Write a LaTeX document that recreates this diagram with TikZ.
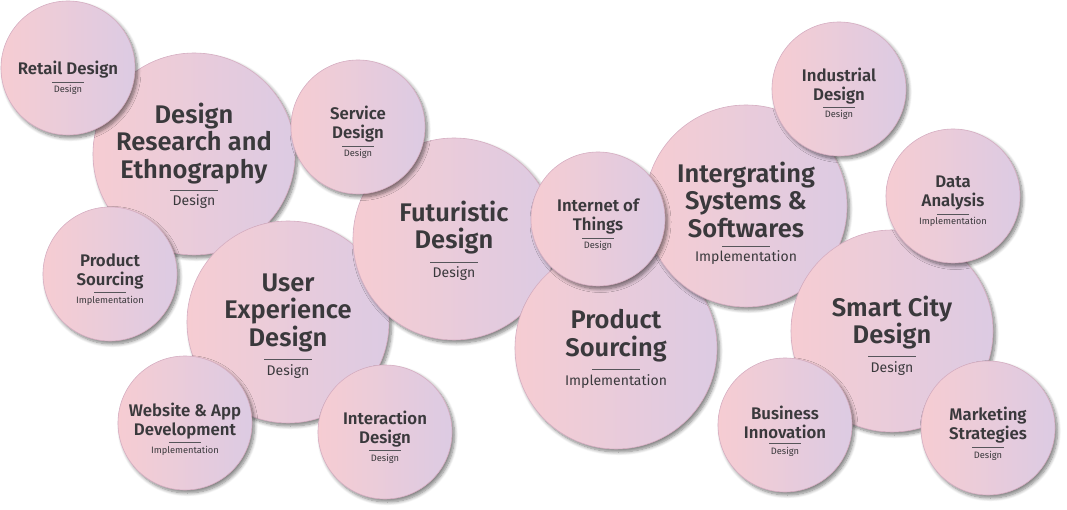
\documentclass[tikz,border=0pt]{standalone}
\usepackage{fontspec}
\setmainfont{Fira Sans}[BoldFont={Fira Sans SemiBold}]
\usetikzlibrary{shadows.blur}

\definecolor{bubL}{HTML}{F6CCD2}
\definecolor{bubR}{HTML}{DCCBE3}
\definecolor{bubEdge}{HTML}{D6AEC2}
\definecolor{ink}{HTML}{3A393C}
\definecolor{ruleink}{HTML}{56555A}

\tikzset{
  bubble/.style={circle, inner sep=0pt, draw=bubEdge, line width=0.6pt,
    left color=bubL, right color=bubR,
    blur shadow={shadow xshift=2.5pt, shadow yshift=-3pt, shadow blur radius=3.5pt,
      shadow opacity=50, shadow blur steps=8}},
  bigtitle/.style={text=ink, align=center, inner sep=0pt,
    font=\fontsize{25.5}{27.5}\selectfont\bfseries},
  smalltitle/.style={text=ink, align=center, inner sep=0pt,
    font=\fontsize{16.8}{19}\selectfont\bfseries},
  bigsub/.style={text=ink, inner sep=0pt, anchor=base, font=\fontsize{14}{16}\selectfont},
  smallsub/.style={text=ink, inner sep=0pt, anchor=base, font=\fontsize{9.3}{11}\selectfont},
  bigrule/.style={fill=ruleink, inner sep=0pt, minimum width=48pt, minimum height=1.3pt},
  smallrule/.style={fill=ruleink, inner sep=0pt, minimum width=32pt, minimum height=1pt},
}

% #1 name, #2 cx, #3 cy, #4 title, #5 subtitle, #6 title centre y, #7 rule y
\newcommand\bigbubble[7]{%
  \node[bubble, minimum size=202pt] (#1) at (#2,#3) {};
  \node[bigtitle] (#1-title) at (#2,#6+2.5) {#4};
  \node[bigrule] (#1-rule) at (#2,#7+0.5) {};
  \node[bigsub] (#1-sub) at (#2,#7+16) {#5};
}
\newcommand\smallbubble[7]{%
  \node[bubble, minimum size=134pt] (#1) at (#2,#3) {};
  \node[smalltitle] (#1-title) at (#2,#6+2) {#4};
  \node[smallrule] (#1-rule) at (#2,#7+0.5) {};
  \node[smallsub] (#1-sub) at (#2,#7+11) {#5};
}

\begin{document}
\begin{tikzpicture}[x=1pt, y=-1pt]
  \useasboundingbox (0,0) rectangle (1067,510);

  \bigbubble{research}{194}{154}{Design\\Research and\\Ethnography}{Design}{141}{190}
  \smallbubble{retail}{68}{68}{Retail Design}{Design}{68}{82}
  \bigbubble{ux}{288}{322}{User\\Experience\\Design}{Design}{310}{359}
  \smallbubble{sourcingS}{110}{274}{Product\\Sourcing}{Implementation}{269}{292}
  \smallbubble{web}{185}{423}{Website \& App\\Development}{Implementation}{419}{442}
  \smallbubble{interaction}{385}{432}{Interaction\\Design}{Design}{427}{450}
  \bigbubble{futuristic}{454}{239}{Futuristic\\Design}{Design}{225}{262}
  \smallbubble{service}{358}{127}{Service\\Design}{Design}{122.5}{146}
  \bigbubble{sourcingB}{616}{348}{Product\\Sourcing}{Implementation}{333}{369}
  \bigbubble{systems}{746}{206}{Intergrating\\Systems \&\\Softwares}{Implementation}{197}{246}
  \smallbubble{iot}{598}{219}{Internet of\\Things}{Design}{214.5}{238}
  \smallbubble{industrial}{839}{89}{Industrial\\Design}{Design}{84}{107}
  \bigbubble{smartcity}{892}{331}{Smart City\\Design}{Design}{320}{356}
  \smallbubble{data}{953}{196}{Data\\Analysis}{Implementation}{191.5}{214}
  \smallbubble{business}{785}{425}{Business\\Innovation}{Design}{420}{443}
  \smallbubble{marketing}{988}{428}{Marketing\\Strategies}{Design}{423.5}{447}
\end{tikzpicture}
\end{document}
